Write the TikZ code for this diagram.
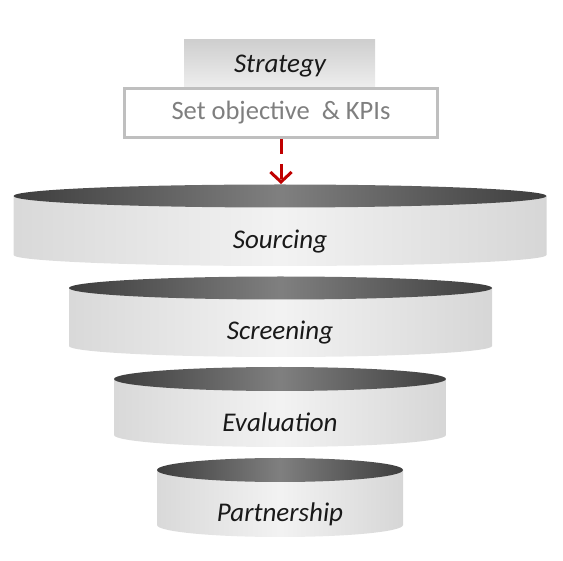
\documentclass[tikz,border=0pt]{standalone}
\usepackage{fontspec}
\setmainfont{Carlito}
\usetikzlibrary{positioning, arrows.meta}

\definecolor{kpired}{HTML}{C00000}
\definecolor{kpigray}{HTML}{BFBFBF}
\definecolor{kpitext}{HTML}{7F7F7F}

\begin{document}
\begin{tikzpicture}[
        x=1pt, y=1pt,
        title/.style={inner sep=0pt, font=\fontsize{27}{31}\selectfont\itshape, text=black!90},
        band/.style={left color=gray!30, right color=gray!32, middle color=gray!10},
        rim/.style={left color=black!76, right color=black!76, middle color=black!50},
        arrow/.style={-{Straight Barb[length=3.5mm, width=7.5mm]}, line width=3pt, kpired, dash pattern=on 15pt off 10pt}
    ]
        \useasboundingbox (0,0) rectangle (563,-561);

        % Header
        \path[top color=gray!38, bottom color=gray!12] (184,-40) rectangle (375,-90);
        \node[title] (strategy) at (280,-66) {Strategy};
        \node[draw=kpigray, line width=3pt, fill=white, minimum width=313, minimum height=49, inner sep=0pt,
              text=kpitext, font=\fontsize{26.5}{31}\selectfont] (objective) at (281,-113) {Set objective~~\& KPIs};

        % Sourcing
        \path[band] (13.5,-196) -- (13.5,-255) arc[start angle=180, end angle=360, x radius=266.5, y radius=11] -- (546.5,-196) -- cycle;
        \path[rim] (280,-196) ellipse [x radius=266.5, y radius=11.5];
        \node[title] (sourcing) at (280,-242) {Sourcing};

        % Screening
        \path[band] (69,-288) -- (69,-346) arc[start angle=180, end angle=360, x radius=211.5, y radius=11] -- (492,-288) -- cycle;
        \path[rim] (280.5,-288) ellipse [x radius=211.5, y radius=11.5];
        \node[title] (screening) at (280,-333) {Screening};

        % Evaluation
        \path[band] (114,-379) -- (114,-435) arc[start angle=180, end angle=360, x radius=166, y radius=12] -- (446,-379) -- cycle;
        \path[rim] (280,-379) ellipse [x radius=166, y radius=12];
        \node[title] (evaluation) at (280,-422) {Evaluation};

        % Partnership
        \path[band] (157,-470) -- (157,-525) arc[start angle=180, end angle=360, x radius=123, y radius=12] -- (403,-470) -- cycle;
        \path[rim] (280,-470) ellipse [x radius=123, y radius=12];
        \node[title] (partnership) at (280,-514) {Partnership};

        % Arrow
        \coordinate (srctop) at (281,-184);
        \draw[arrow] (objective.south) -- (srctop);
    \end{tikzpicture}
\end{document}
